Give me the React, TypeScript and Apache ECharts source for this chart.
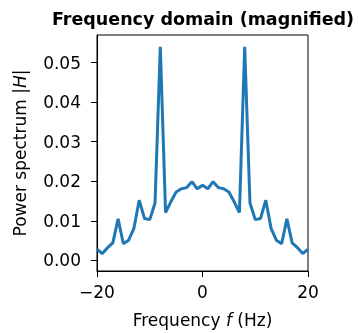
import React, { useEffect, useRef } from "react";
import * as echarts from "echarts";

const freqs = [
  -20, -19, -18, -17, -16, -15, -14, -13, -12, -11, -10, -9, -8, -7, -6, -5, -4, -3, -2, -1, 0,
  1, 2, 3, 4, 5, 6, 7, 8, 9, 10, 11, 12, 13, 14, 15, 16, 17, 18, 19, 20,
];
const power = [
  0.0028, 0.0017, 0.0032, 0.0044, 0.0105, 0.0042, 0.0051, 0.0081, 0.0152, 0.0106, 0.0103, 0.0145,
  0.054, 0.0121, 0.0148, 0.0173, 0.0181, 0.0184, 0.0199, 0.0181, 0.019,
  0.0181, 0.0199, 0.0184, 0.0181, 0.0173, 0.0148, 0.0121, 0.054, 0.0145, 0.0103, 0.0106, 0.0152,
  0.0081, 0.0051, 0.0042, 0.0105, 0.0044, 0.0032, 0.0017, 0.0028,
];
const yTicks = [0, 0.01, 0.02, 0.03, 0.04, 0.05];
const xTicks = [-20, 0, 20];

const FONT = "DejaVu Sans";

export default function App() {
  const ref = useRef<HTMLDivElement>(null);
  useEffect(() => {
    if (!ref.current) return;
    const chart = echarts.init(ref.current, null, { renderer: "svg" });
    chart.setOption({
      animation: false,
      title: {
        text: "Frequency domain (magnified)",
        left: 198,
        textAlign: "center",
        top: 5,
        textStyle: { fontFamily: FONT, fontSize: 17.5, fontWeight: "bold", color: "#000" },
      },
      grid: {
        left: 97,
        right: 50,
        top: 35,
        bottom: 61.5,
        show: true,
        borderColor: "#000",
        borderWidth: 1,
        backgroundColor: "transparent",
      },
      xAxis: {
        type: "value",
        min: -20,
        max: 20,
        interval: 20,
        splitLine: { show: false },
        axisLine: { show: true, onZero: false, lineStyle: { color: "#000", width: 1 } },
        axisTick: { show: true, length: 6, lineStyle: { color: "#000" }, customValues: xTicks },
        axisLabel: {
          color: "#000",
          fontFamily: FONT,
          fontSize: 17,
          margin: 12,
          customValues: xTicks,
          formatter: (v: number) => String(v).replace("-", "\u2212"),
        },
        name: "Frequency {i|f} (Hz)",
        nameLocation: "middle",
        nameGap: 40,
        nameTextStyle: {
          color: "#000",
          fontFamily: FONT,
          fontSize: 17,
          rich: { i: { fontStyle: "italic", fontFamily: FONT, fontSize: 17, color: "#000" } },
        },
      },
      yAxis: {
        type: "value",
        min: -0.0027,
        max: 0.057,
        splitLine: { show: false },
        axisLine: { show: true, onZero: false, lineStyle: { color: "#000", width: 1 } },
        axisTick: { show: true, length: 6, lineStyle: { color: "#000" }, customValues: yTicks },
        axisLabel: {
          color: "#000",
          fontFamily: FONT,
          fontSize: 17,
          margin: 16,
          customValues: yTicks,
          formatter: (v: number) => v.toFixed(2),
        },
        name: "Power spectrum |{i|H}|",
        nameLocation: "middle",
        nameGap: 69,
        nameTextStyle: {
          color: "#000",
          fontFamily: FONT,
          fontSize: 17,
          rich: { i: { fontStyle: "italic", fontFamily: FONT, fontSize: 17, color: "#000" } },
        },
      },
      series: [
        {
          type: "line",
          data: freqs.map((f, i) => [f, power[i]]),
          showSymbol: false,
          lineStyle: { color: "#1f77b4", width: 3 },
          clip: true,
        },
      ],
    });
    return () => chart.dispose();
  }, []);
  return (
    <div
      ref={ref}
      style={{ position: "fixed", left: 0, top: 0, width: 358, height: 333 }}
    />
  );
}
